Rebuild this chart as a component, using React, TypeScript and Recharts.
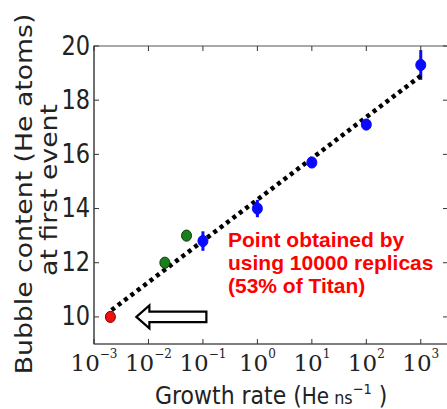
import { ScatterChart, Scatter, XAxis, YAxis, ErrorBar, ReferenceArea } from 'recharts'

// growth rate (He/ns) vs bubble content (He atoms) at first event
const blueRate = [0.1, 1, 10, 100, 1000]
const blueContent = [12.8, 14.0, 15.7, 17.1, 19.3]
const blueErr = [0.36, 0.32, 0.2, 0.2, 0.55]

const greenRate = [0.02, 0.05]
const greenContent = [12.0, 13.0]

const redRate = [0.002]
const redContent = [10.0]

// dotted fit
const fitRate = [0.0021, 1000]
const fitContent = [10.25, 18.9]

// arrow tip pointing to the red point
const arrowRate = [0.006]
const arrowContent = [10.0]

const xTicks = [1e-3, 1e-2, 1e-1, 1, 10, 100, 1000]
const xTickExp = ['\u22123', '\u22122', '\u22121', '0', '1', '2', '3']
const yTicks = [10, 12, 14, 16, 18, 20]

const X_MIN = 1e-3
const X_MAX = Math.pow(10, 3.5)
const Y_MIN = 9
const Y_MAX = 20

const CHART_W = 460
const CHART_H = 409
const MARGIN = { top: 46, right: 12, left: 0, bottom: 0 }
const Y_AXIS_W = 94
const X_AXIS_H = 65
const PLOT_W = CHART_W - MARGIN.right - Y_AXIS_W
const PLOT_H = CHART_H - MARGIN.top - X_AXIS_H

const zip = (xs: number[], ys: number[], errs?: number[]) =>
  xs.map((x, i) => ({ x, y: ys[i], err: errs ? errs[i] : 0 }))

const blueData = zip(blueRate, blueContent, blueErr)
const greenData = zip(greenRate, greenContent)
const redData = zip(redRate, redContent)
const fitData = zip(fitRate, fitContent)
const arrowData = zip(arrowRate, arrowContent)

const TICK_COLOR = '#333'

const XTick = ({ x, y, index }: any) => (
  <g>
    <line x1={x} x2={x} y1={y} y2={y - 5} stroke={TICK_COLOR} />
    <line x1={x} x2={x} y1={y - PLOT_H} y2={y - PLOT_H + 5} stroke={TICK_COLOR} />
    <text x={x} y={y + 27} textAnchor="middle" fontFamily="DejaVu Serif" fontSize={23} fill="#222">
      10
      <tspan dy={-13} fontSize={12}>{xTickExp[index] ?? ''}</tspan>
    </text>
  </g>
)

const YTick = ({ x, y, payload }: any) => (
  <g>
    <line x1={x} x2={x + 5} y1={y} y2={y} stroke={TICK_COLOR} />
    <line x1={x + PLOT_W} x2={x + PLOT_W - 5} y1={y} y2={y} stroke={TICK_COLOR} />
    <text
      transform={`translate(${x - 4}, ${y + 8.5}) scale(1, 1.22)`}
      textAnchor="end"
      fontFamily="DejaVu Sans"
      fontSize={22.5}
      fill="#222"
    >
      {payload.value}
    </text>
  </g>
)

const dot = (fill: string, edge: string) => (props: any) => (
  <ellipse cx={props.cx} cy={props.cy} rx={5} ry={5.6} fill={fill} stroke={edge} strokeWidth={1} />
)

const Arrow = ({ cx, cy }: any) => (
  <polygon
    points={[
      [cx, cy],
      [cx + 13, cy - 11.5],
      [cx + 13, cy - 5.3],
      [cx + 70, cy - 5.3],
      [cx + 70, cy + 5.3],
      [cx + 13, cy + 5.3],
      [cx + 13, cy + 11.5],
    ]
      .map((p) => p.join(','))
      .join(' ')}
    fill="#fff"
    stroke="#000"
    strokeWidth={2.2}
  />
)

export default function App() {
  return (
    <div style={{ position: 'absolute', left: 0, top: 0, width: 447, height: 409, overflow: 'hidden', background: '#fff' }}>
      <ScatterChart width={CHART_W} height={CHART_H} margin={MARGIN}>
        <ReferenceArea x1={X_MIN} x2={X_MAX} y1={Y_MIN} y2={Y_MAX} fill="none" stroke="#555" strokeWidth={1.2} fillOpacity={0} />
        <XAxis
          type="number"
          dataKey="x"
          scale="log"
          domain={[X_MIN, X_MAX]}
          allowDataOverflow
          ticks={xTicks}
          height={X_AXIS_H}
          tickSize={0}
          tickMargin={0}
          tickLine={false}
          axisLine={{ stroke: '#555', strokeWidth: 1.2 }}
          tick={<XTick />}
          interval={0}
        />
        <YAxis
          type="number"
          dataKey="y"
          domain={[Y_MIN, Y_MAX]}
          allowDataOverflow
          ticks={yTicks}
          width={Y_AXIS_W}
          tickSize={0}
          tickMargin={0}
          tickLine={false}
          axisLine={{ stroke: '#555', strokeWidth: 1.2 }}
          tick={<YTick />}
          interval={0}
        />
        <Scatter
          data={fitData}
          line={{ stroke: '#000', strokeWidth: 4.5, strokeDasharray: '4 4' }}
          shape={() => <g />}
          isAnimationActive={false}
        />
        <Scatter data={blueData} shape={dot('#0a0aff', '#0a0aff')} isAnimationActive={false}>
          <ErrorBar dataKey="err" direction="y" width={0} stroke="#0a0aff" strokeWidth={3} />
        </Scatter>
        <Scatter data={greenData} shape={dot('#1a7f1a', '#0c3a0c')} isAnimationActive={false} />
        <Scatter data={redData} shape={dot('#ee1010', '#7a0000')} isAnimationActive={false} />
        <Scatter data={arrowData} shape={<Arrow />} isAnimationActive={false} />
      </ScatterChart>

      <svg width={447} height={409} style={{ position: 'absolute', left: 0, top: 0, pointerEvents: 'none' }}>
        <g fontFamily="DejaVu Sans" fill="#222">
          <text transform="translate(32, 194) rotate(-90) scale(1.16, 1)" textAnchor="middle" fontSize={23}>
            Bubble content (He atoms)
          </text>
          <text transform="translate(57, 190) rotate(-90) scale(1.16, 1)" textAnchor="middle" fontSize={23}>
            at first event
          </text>
          <text transform="translate(155, 404) scale(1, 1.15)" fontSize={22}>
            Growth rate (<tspan fontSize={20}>He</tspan>
            <tspan fontSize={16}> ns</tspan>
            <tspan fontSize={13} dy={-9}>{'\u22121'}</tspan>
            <tspan dy={9} fontSize={22}> )</tspan>
          </text>
        </g>
        <g fontFamily="Liberation Sans, Arial, sans-serif" fontWeight="bold" fill="#ff0000" fontSize={21}>
          <text x={228} y={247}>Point obtained by</text>
          <text x={228} y={270}>using 10000 replicas</text>
          <text x={228} y={293}>(53% of Titan)</text>
        </g>
      </svg>
    </div>
  )
}
